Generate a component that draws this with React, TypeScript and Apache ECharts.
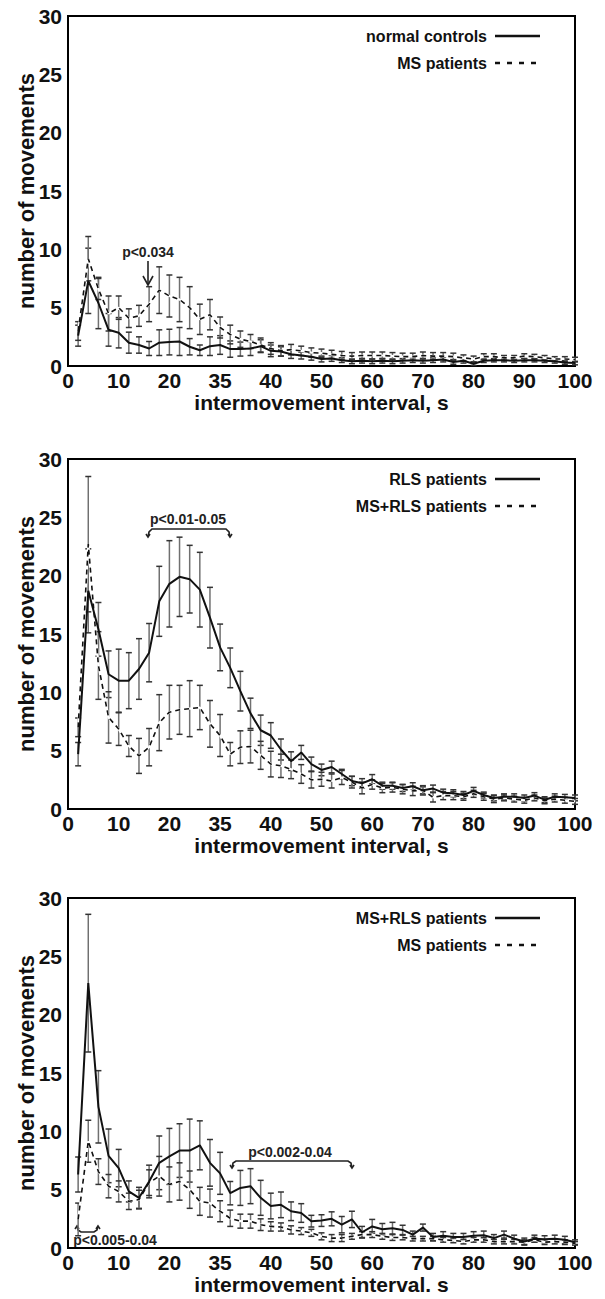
import React, { useEffect, useRef } from "react";
import * as echarts from "echarts";

// intermovement interval bins (s)
const intervals = [2, 4, 6, 8, 10, 12, 14, 16, 18, 20, 22, 24, 26, 28, 30, 32, 34, 36, 38, 40, 42, 44, 46, 48, 50, 52, 54, 56, 58, 60, 62, 64, 66, 68, 70, 72, 74, 76, 78, 80, 82, 84, 86, 88, 90, 92, 94, 96, 98, 100];
const xTickLabels = ["0", "10", "20", "35", "40", "50", "60", "70", "80", "90", "100"];
const yTickLabels = ["0", "5", "10", "15", "20", "25", "30"];

// Panel 1
const p1ControlsMean = [2.6, 7.3, 5.4, 3.1, 2.85, 2.0, 1.8, 1.5, 2.0, 2.05, 2.1, 1.65, 1.35, 1.7, 1.8, 1.45, 1.45, 1.5, 1.7, 1.3, 1.25, 1.0, 0.9, 0.8, 0.6, 0.65, 0.5, 0.4, 0.45, 0.4, 0.45, 0.4, 0.45, 0.5, 0.45, 0.5, 0.55, 0.35, 0.45, 0.2, 0.45, 0.5, 0.5, 0.45, 0.5, 0.5, 0.45, 0.4, 0.3, 0.25];
const p1ControlsSE = [0.9, 2.8, 2.2, 1.4, 1.3, 0.9, 0.7, 0.6, 1.1, 1.1, 1.2, 0.7, 0.45, 0.8, 0.8, 0.7, 0.6, 0.6, 0.55, 0.5, 0.4, 0.35, 0.3, 0.3, 0.25, 0.25, 0.2, 0.2, 0.2, 0.2, 0.2, 0.2, 0.2, 0.2, 0.2, 0.2, 0.2, 0.2, 0.2, 0.15, 0.15, 0.15, 0.15, 0.15, 0.15, 0.15, 0.15, 0.15, 0.15, 0.15];
const p1MSMean = [3.0, 9.2, 6.6, 4.5, 5.0, 4.1, 4.3, 5.3, 6.5, 6.0, 5.7, 5.0, 4.0, 4.4, 3.3, 2.7, 2.3, 2.1, 1.8, 1.5, 1.3, 1.4, 1.3, 1.15, 1.1, 1.0, 0.9, 0.85, 0.9, 0.9, 0.9, 0.85, 0.8, 0.8, 0.9, 0.85, 0.85, 0.8, 0.7, 0.6, 0.8, 0.8, 0.7, 0.7, 0.85, 0.8, 0.7, 0.6, 0.6, 0.55];
const p1MSSE = [0.8, 1.9, 0.9, 1.5, 1.0, 0.8, 0.9, 1.5, 2.0, 1.8, 1.9, 1.8, 1.3, 1.3, 0.9, 0.8, 0.7, 0.6, 0.6, 0.5, 0.45, 0.45, 0.4, 0.4, 0.35, 0.35, 0.35, 0.3, 0.3, 0.3, 0.3, 0.3, 0.3, 0.3, 0.3, 0.3, 0.3, 0.3, 0.25, 0.25, 0.25, 0.25, 0.2, 0.2, 0.2, 0.2, 0.2, 0.2, 0.2, 0.2];

// Panel 2
const p2RLSMean = [4.7, 18.7, 15.4, 11.55, 11.0, 11.0, 12.0, 13.4, 17.8, 19.3, 19.9, 19.7, 18.8, 16.4, 13.85, 12.1, 10.1, 8.2, 6.75, 6.3, 5.1, 4.1, 4.85, 3.85, 3.35, 3.6, 3.0, 2.4, 2.2, 2.55, 2.0, 2.0, 1.8, 1.95, 1.6, 1.75, 1.4, 1.35, 1.2, 1.55, 1.2, 0.95, 1.05, 1.05, 0.95, 1.15, 0.8, 1.05, 1.0, 0.95];
const p2RLSSE = [1.0, 3.6, 2.3, 2.0, 2.7, 2.4, 2.6, 2.5, 3.0, 3.7, 3.4, 2.9, 3.2, 2.6, 2.0, 1.7, 1.7, 1.3, 1.3, 1.1, 0.9, 0.8, 0.6, 0.6, 0.5, 0.5, 0.4, 0.4, 0.4, 0.4, 0.3, 0.3, 0.3, 0.3, 0.3, 0.3, 0.3, 0.3, 0.3, 0.3, 0.25, 0.25, 0.25, 0.25, 0.25, 0.25, 0.25, 0.25, 0.25, 0.25];
const p2MSRLSMean = [7.0, 22.7, 12.3, 7.85, 6.85, 5.4, 4.55, 5.3, 7.4, 8.3, 8.5, 8.6, 8.7, 7.3, 6.3, 4.7, 5.3, 5.35, 4.6, 3.85, 3.7, 3.4, 3.0, 2.5, 2.55, 2.4, 2.7, 2.3, 1.8, 2.1, 1.8, 1.85, 1.7, 1.55, 1.6, 1.0, 1.15, 1.15, 1.05, 1.3, 1.05, 0.85, 0.95, 0.85, 0.75, 0.95, 0.7, 0.85, 0.75, 0.65];
const p2MSRLSSE = [0.8, 5.8, 2.9, 2.2, 1.4, 0.9, 1.5, 1.6, 2.4, 2.3, 2.1, 2.4, 1.9, 2.0, 1.8, 1.0, 1.4, 1.4, 1.2, 1.1, 1.0, 0.8, 0.8, 0.7, 0.6, 0.6, 0.6, 0.5, 0.5, 0.4, 0.4, 0.4, 0.4, 0.4, 0.4, 0.4, 0.35, 0.35, 0.3, 0.3, 0.3, 0.3, 0.25, 0.25, 0.25, 0.25, 0.25, 0.25, 0.25, 0.25];

// Panel 3
const p3MSRLSMean = [6.3, 22.7, 12.1, 7.9, 6.85, 4.85, 4.3, 5.7, 7.3, 7.85, 8.35, 8.35, 8.8, 7.3, 6.4, 4.7, 5.15, 5.3, 4.3, 3.6, 3.7, 3.15, 3.0, 2.3, 2.35, 2.5, 2.0, 2.45, 1.35, 1.85, 1.6, 1.7, 1.55, 1.15, 1.75, 0.95, 1.05, 0.95, 0.95, 1.05, 1.1, 0.85, 1.15, 0.8, 0.55, 0.8, 0.75, 0.8, 0.7, 0.5];
const p3MSRLSSE = [1.5, 5.9, 3.1, 2.3, 1.6, 0.9, 0.9, 1.4, 2.3, 2.4, 2.3, 2.7, 2.1, 2.0, 1.8, 1.0, 1.5, 1.5, 1.5, 1.1, 1.1, 0.8, 0.8, 0.5, 0.5, 0.6, 0.7, 0.7, 0.5, 0.6, 0.5, 0.5, 0.4, 0.3, 0.3, 0.3, 0.35, 0.3, 0.3, 0.35, 0.35, 0.3, 0.3, 0.3, 0.3, 0.3, 0.3, 0.3, 0.3, 0.2];
const p3MSMean = [2.45, 9.15, 6.55, 5.3, 4.85, 4.0, 4.15, 5.6, 6.15, 5.45, 5.7, 5.0, 4.0, 3.85, 3.15, 2.55, 2.3, 2.3, 2.0, 1.85, 1.8, 1.55, 1.45, 1.3, 1.0, 0.85, 0.85, 1.0, 1.15, 1.15, 1.0, 0.9, 0.9, 0.8, 0.8, 0.8, 0.7, 0.65, 0.55, 0.7, 0.7, 0.55, 0.55, 0.55, 0.5, 0.7, 0.5, 0.55, 0.5, 0.4];
const p3MSSE = [1.4, 1.8, 1.1, 1.0, 0.9, 0.7, 0.8, 1.1, 1.7, 1.5, 1.6, 1.6, 1.2, 1.2, 0.9, 0.7, 0.6, 0.6, 0.5, 0.4, 0.35, 0.35, 0.3, 0.3, 0.3, 0.3, 0.3, 0.25, 0.25, 0.25, 0.25, 0.25, 0.2, 0.2, 0.2, 0.2, 0.2, 0.2, 0.2, 0.2, 0.2, 0.2, 0.2, 0.2, 0.2, 0.2, 0.2, 0.2, 0.2, 0.15];

const legendNames = [
  ["normal controls", "MS patients"],
  ["RLS patients", "MS+RLS patients"],
  ["MS+RLS patients", "MS patients"],
];
const xAxisNames = ["intermovement interval, s", "intermovement interval, s", "intermovement interval. s"];
const yAxisName = "number of movements";

const FONT = "'Liberation Sans', Arial, Helvetica, sans-serif";
const GRID_TOPS = [16, 459, 898];
const GRID_H = 350;
const GRID_LEFT = 68;
const GRID_RIGHT_X = 575;

function errorBarSeries(gi: number, mean: number[], se: number[], z: number) {
  const data = intervals.map((x, i) => [x, Math.max(0, mean[i] - se[i]), mean[i] + se[i]]);
  return {
    type: "custom",
    xAxisIndex: gi,
    yAxisIndex: gi,
    z,
    silent: true,
    encode: { x: 0, y: [1, 2] },
    data,
    renderItem: (params: any, api: any) => {
      const x = api.value(0);
      const lo = api.coord([x, api.value(1)]);
      const hi = api.coord([x, api.value(2)]);
      const w = 3;
      return {
        type: "group",
        children: [
          { type: "line", shape: { x1: lo[0], y1: lo[1], x2: hi[0], y2: hi[1] }, style: { stroke: "#707070", lineWidth: 1.5 } },
          { type: "line", shape: { x1: lo[0] - w, y1: lo[1], x2: lo[0] + w, y2: lo[1] }, style: { stroke: "#333", lineWidth: 1.5 } },
          { type: "line", shape: { x1: hi[0] - w, y1: hi[1], x2: hi[0] + w, y2: hi[1] }, style: { stroke: "#333", lineWidth: 1.5 } },
        ],
      };
    },
  };
}

function lineSeries(gi: number, name: string, mean: number[], dashed: boolean) {
  return {
    type: "line",
    name,
    xAxisIndex: gi,
    yAxisIndex: gi,
    z: 5,
    symbol: "none",
    silent: true,
    data: intervals.map((x, i) => [x, mean[i]]),
    lineStyle: dashed
      ? { color: "#111", width: 1.6, type: [5, 4] }
      : { color: "#111", width: 2 },
  };
}

// white under-stroke that makes the dashed line's gaps read through the error bars
function underlaySeries(gi: number, mean: number[]) {
  return {
    type: "line",
    xAxisIndex: gi,
    yAxisIndex: gi,
    z: 4,
    symbol: "none",
    silent: true,
    data: intervals.map((x, i) => [x, mean[i]]),
    lineStyle: { color: "#fff", width: 2.2 },
  };
}

function legendGraphics(gi: number) {
  const t = GRID_TOPS[gi];
  const [a, b] = legendNames[gi];
  const txt = (y: number, s: string) => ({
    type: "text",
    x: 487,
    y,
    style: { text: s, fill: "#111", font: `bold 16px ${FONT}`, textAlign: "right", textVerticalAlign: "middle" },
  });
  return [
    txt(t + 20, a),
    { type: "line", shape: { x1: 495, y1: t + 20, x2: 540, y2: t + 20 }, style: { stroke: "#111", lineWidth: 2.5 } },
    txt(t + 47, b),
    { type: "line", shape: { x1: 495, y1: t + 47, x2: 540, y2: t + 47 }, style: { stroke: "#111", lineWidth: 2.5, lineDash: [5, 7] } },
  ];
}

function annText(x: number, y: number, s: string) {
  return {
    type: "text",
    x,
    y,
    style: { text: s, fill: "#222", font: `bold 14px ${FONT}`, textAlign: "center", textVerticalAlign: "middle" },
  };
}

export default function App() {
  const ref = useRef<HTMLDivElement>(null);
  useEffect(() => {
    if (!ref.current) return;
    const chart = echarts.init(ref.current, undefined, { renderer: "svg" });

    const grids = GRID_TOPS.map((top) => ({
      left: GRID_LEFT,
      top,
      width: GRID_RIGHT_X - GRID_LEFT,
      height: GRID_H,
      show: true,
      borderColor: "#000",
      borderWidth: 2,
      backgroundColor: "transparent",
    }));

    const xAxes = GRID_TOPS.map((_, gi) => ({
      type: "value",
      gridIndex: gi,
      min: 0,
      max: 100,
      interval: 10,
      name: xAxisNames[gi],
      nameLocation: "middle",
      nameGap: 26,
      nameMoveOverlap: false,
      nameTextStyle: { fontFamily: FONT, fontWeight: "bold", fontSize: 21, color: "#111" },
      axisLine: { show: true, lineStyle: { color: "#000", width: 2 } },
      axisTick: { show: false },
      splitLine: { show: false },
      axisLabel: {
        margin: 4,
        fontFamily: FONT,
        fontWeight: "bold",
        fontSize: 21,
        color: "#111",
        formatter: (v: number) => xTickLabels[Math.round(v / 10)],
      },
    }));

    const yAxes = GRID_TOPS.map((_, gi) => ({
      type: "value",
      gridIndex: gi,
      min: 0,
      max: 30,
      interval: 5,
      name: yAxisName,
      nameLocation: "middle",
      nameGap: 31,
      nameMoveOverlap: false,
      nameTextStyle: { fontFamily: FONT, fontWeight: "bold", fontSize: 22, color: "#111" },
      axisLine: { show: true, lineStyle: { color: "#000", width: 2 } },
      axisTick: { show: false },
      splitLine: { show: false },
      axisLabel: {
        margin: 6,
        fontFamily: FONT,
        fontWeight: "bold",
        fontSize: 21,
        color: "#111",
        formatter: (v: number) => yTickLabels[Math.round(v / 5)],
      },
    }));

    const series: any[] = [
      errorBarSeries(0, p1ControlsMean, p1ControlsSE, 2),
      errorBarSeries(0, p1MSMean, p1MSSE, 2),
      underlaySeries(0, p1MSMean),
      lineSeries(0, legendNames[0][0], p1ControlsMean, false),
      lineSeries(0, legendNames[0][1], p1MSMean, true),
      errorBarSeries(1, p2RLSMean, p2RLSSE, 2),
      errorBarSeries(1, p2MSRLSMean, p2MSRLSSE, 2),
      underlaySeries(1, p2MSRLSMean),
      lineSeries(1, legendNames[1][0], p2RLSMean, false),
      lineSeries(1, legendNames[1][1], p2MSRLSMean, true),
      errorBarSeries(2, p3MSRLSMean, p3MSRLSSE, 2),
      errorBarSeries(2, p3MSMean, p3MSSE, 2),
      underlaySeries(2, p3MSMean),
      lineSeries(2, legendNames[2][0], p3MSRLSMean, false),
      lineSeries(2, legendNames[2][1], p3MSMean, true),
    ];

    const bracketStyle = { stroke: "#222", lineWidth: 1.6, fill: null as any };
    const graphics: any[] = [
      ...legendGraphics(0),
      ...legendGraphics(1),
      ...legendGraphics(2),
      // panel 1 annotation
      annText(148, 252, "p<0.034"),
      { type: "line", shape: { x1: 148, y1: 261, x2: 148, y2: 284 }, style: { stroke: "#222", lineWidth: 1.6 } },
      { type: "polyline", shape: { points: [[143, 276], [148, 285], [153, 276]] }, style: { ...bracketStyle } },
      // panel 2 annotation
      annText(188, 519, "p<0.01-0.05"),
      { type: "polyline", shape: { points: [[148, 537], [149, 532], [152, 529], [226, 529], [229, 532], [230, 537]] }, style: { ...bracketStyle } },
      { type: "polyline", shape: { points: [[146, 534], [148, 537], [150, 534]] }, style: { ...bracketStyle } },
      { type: "polyline", shape: { points: [[228, 534], [230, 537], [232, 534]] }, style: { ...bracketStyle } },
      // panel 3 annotations
      annText(290, 1152, "p<0.002-0.04"),
      { type: "polyline", shape: { points: [[232, 1168], [233, 1163], [236, 1161], [348, 1161], [351, 1163], [352, 1168]] }, style: { ...bracketStyle } },
      { type: "polyline", shape: { points: [[230, 1165], [232, 1168], [234, 1165]] }, style: { ...bracketStyle } },
      { type: "polyline", shape: { points: [[350, 1165], [352, 1168], [354, 1165]] }, style: { ...bracketStyle } },
      annText(115, 1240, "p<0.005-0.04"),
      { type: "polyline", shape: { points: [[77, 1226], [78, 1230], [81, 1232], [94, 1232], [97, 1230], [98, 1226]] }, style: { ...bracketStyle } },
      { type: "polyline", shape: { points: [[75, 1229], [77, 1226], [79, 1229]] }, style: { ...bracketStyle } },
      { type: "polyline", shape: { points: [[96, 1229], [98, 1226], [100, 1229]] }, style: { ...bracketStyle } },
    ];

    chart.setOption({
      animation: false,
      backgroundColor: "#fff",
      textStyle: { fontFamily: FONT },
      grid: grids,
      xAxis: xAxes,
      yAxis: yAxes,
      series,
      graphic: { elements: graphics },
    });
    return () => chart.dispose();
  }, []);
  return (
    <div
      ref={ref}
      style={{ position: "absolute", left: 0, top: 0, width: 605, height: 1299, background: "#fff" }}
    />
  );
}
